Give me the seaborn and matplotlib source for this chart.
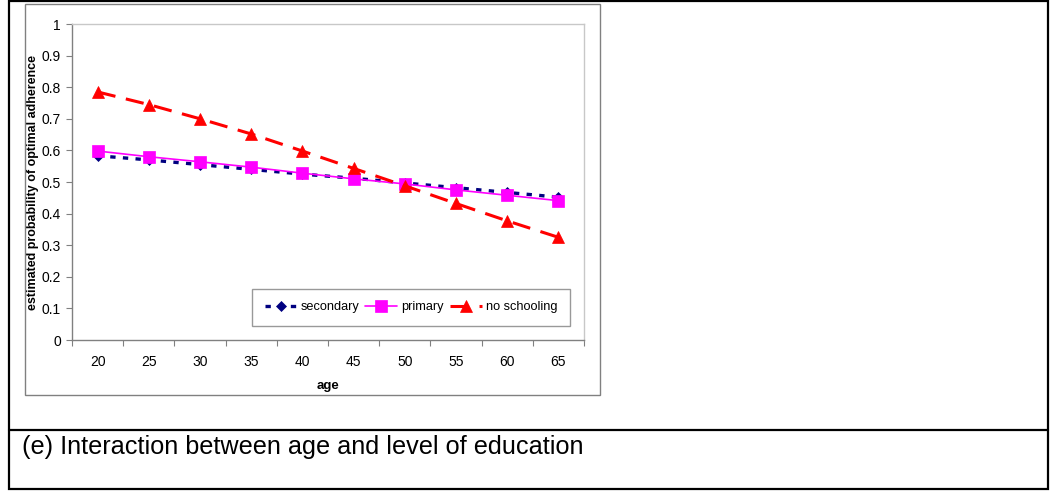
# -*- coding: utf-8 -*-

#Data processing
import pandas as pd
import numpy as np

#Visualization
import matplotlib.pyplot as plt
import seaborn as sns
from matplotlib.patches import Rectangle
from matplotlib.lines import Line2D
from matplotlib.ticker import FixedLocator


#Plot parameters
sns.set_style('white')
plt.rcParams['font.family'] = ['Liberation Sans', 'DejaVu Sans']
plt.rcParams.update({'text.color': 'black', 'axes.labelcolor': 'black'})


#Data
ages = [20, 25, 30, 35, 40, 45, 50, 55, 60, 65]
secondary = [0.583, 0.570, 0.555, 0.540, 0.525, 0.512, 0.497, 0.482, 0.467, 0.452]
primary = [0.598, 0.580, 0.564, 0.547, 0.528, 0.510, 0.494, 0.475, 0.458, 0.441]
no_schooling = [0.785, 0.745, 0.700, 0.652, 0.598, 0.543, 0.488, 0.432, 0.377, 0.325]
groups = ['secondary', 'primary', 'no schooling']
y_ticks = [0, 0.1, 0.2, 0.3, 0.4, 0.5, 0.6, 0.7, 0.8, 0.9, 1]
caption = '(e) Interaction between age and level of education'

df = pd.DataFrame({'age': ages * 3,
                   'prob': secondary + primary + no_schooling,
                   'education': np.repeat(groups, len(ages))})

styles = {
    'secondary': dict(color='#000080', marker='D', markersize=5, linewidth=2.4,
                      linestyle=(0, (1.6, 2.2))),
    'primary': dict(color='#FF00FF', marker='s', markersize=8.5, linewidth=1.2,
                    linestyle='-'),
    'no schooling': dict(color='#FF0000', marker='^', markersize=9, linewidth=2.2,
                         linestyle=(0, (6, 3.5))),
}


fig = plt.figure(figsize=(10.5, 4.99), dpi=100)

#frames around the figure, like the table cell in the paper
fig.add_artist(Rectangle((0.0086, 0.02), 0.9894, 0.978, transform=fig.transFigure,
                         fill=False, edgecolor='black', linewidth=1.6))
fig.add_artist(Line2D([0.0086, 0.998], [0.1383, 0.1383], transform=fig.transFigure,
                      color='black', linewidth=1.6))
fig.add_artist(Rectangle((0.0235, 0.2084), 0.5479, 0.7826, transform=fig.transFigure,
                         fill=False, edgecolor='#808080', linewidth=1.0))

ax = fig.add_axes([0.0686, 0.3186, 0.4876, 0.6333])
for i, g in enumerate(groups):
    sub = df[df['education'] == g]
    st = styles[g]
    sns.lineplot(x='age', y='prob', data=sub, ax=ax, label=g, errorbar=None,
                 color=st['color'], marker=st['marker'], markersize=st['markersize'],
                 linewidth=st['linewidth'], linestyle=st['linestyle'],
                 markeredgecolor=st['color'], markeredgewidth=0.5, zorder=3 + i)

ax.set_xlim(17.5, 67.5)
ax.set_ylim(0, 1)
ax.set_xticks(ages)
ax.set_xticklabels([str(a) for a in ages])
ax.xaxis.set_minor_locator(FixedLocator(np.arange(17.5, 68, 5)))
ax.tick_params(axis='x', which='major', length=0, pad=11, labelsize=10,
               labelcolor='black')
ax.tick_params(axis='x', which='minor', length=4, width=0.8, color='#808080',
               direction='out', bottom=True)
ax.set_yticks(y_ticks)
ax.set_yticklabels([('%g' % v) for v in y_ticks])
ax.tick_params(axis='y', length=4, width=0.8, color='#808080', direction='out',
               left=True, pad=4, labelsize=10, labelcolor='black')

for s in ['left', 'bottom']:
    ax.spines[s].set_color('#808080')
    ax.spines[s].set_linewidth(1.0)
for s in ['top', 'right']:
    ax.spines[s].set_color('#c8c8c8')
    ax.spines[s].set_linewidth(1.0)

ax.set_xlabel('age', fontsize=9.5, fontweight='bold', labelpad=8)
ax.set_ylabel('estimated probability of optimal adherence', fontsize=9,
              fontweight='bold', labelpad=2)

leg = ax.legend(ncol=3, loc='lower right', bbox_to_anchor=(0.973, 0.044),
                borderaxespad=0, fontsize=9.2, frameon=True, fancybox=False,
                handlelength=2.5, borderpad=1.0, columnspacing=0.5,
                handletextpad=0.3)
leg.get_frame().set_edgecolor('#808080')
leg.get_frame().set_linewidth(1.0)

fig.text(0.021, 0.105, caption, fontsize=18.2, color='black', va='center', ha='left')

plt.savefig('out.png', dpi=100)
